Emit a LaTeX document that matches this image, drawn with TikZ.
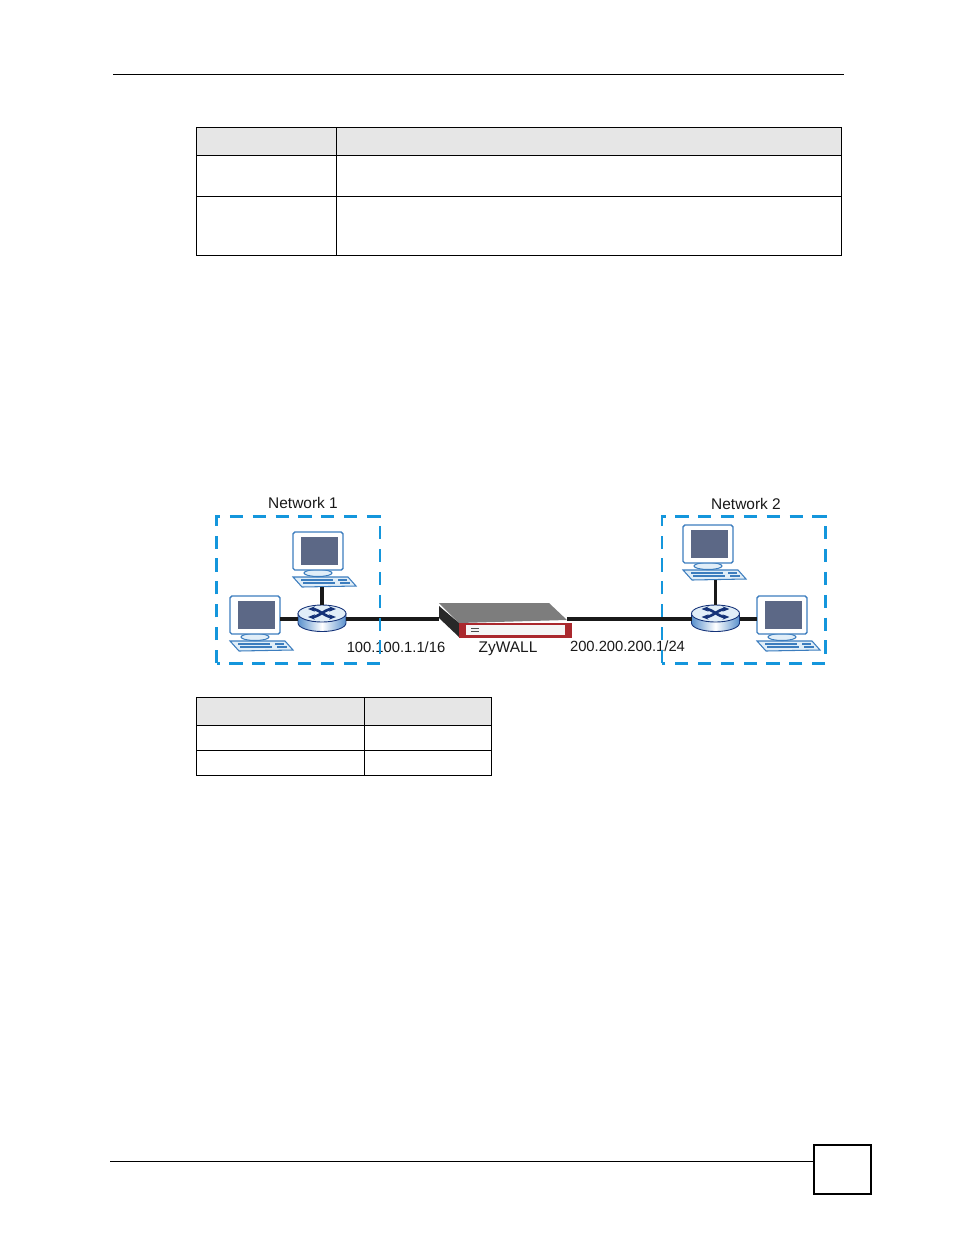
\documentclass[tikz,border=0pt]{standalone}
\usepackage{fontspec}
\setmainfont{Liberation Sans}
\usetikzlibrary{arrows.meta}
\definecolor{net_blue}{RGB}{20, 150, 220}
\definecolor{head_grey}{RGB}{230, 230, 230}
\definecolor{pc_edge}{RGB}{60, 125, 190}
\definecolor{pc_screen}{RGB}{92, 104, 134}
\definecolor{pc_pale}{RGB}{225, 238, 248}
\definecolor{rt_blue}{RGB}{90, 145, 205}
\definecolor{rt_navy}{RGB}{20, 50, 120}
\definecolor{box_top}{RGB}{125, 125, 125}
\definecolor{box_side}{RGB}{40, 40, 40}
\definecolor{box_red}{RGB}{170, 40, 45}
\tikzstyle{lan}=[draw=net_blue,line width=1.7pt,dash pattern=on 7.5pt off 5.5pt]
\tikzstyle{wire}=[draw=black!90,line width=1.8pt]
\tikzstyle{lbl}=[inner sep=0pt,text=black!90,font=\fontsize{8.8}{10}\selectfont]
\tikzstyle{cell}=[draw=black,line width=0.6pt]
\tikzstyle{rule}=[draw=black,line width=0.6pt]
\tikzset{
  pics/pc/.style={code={
    \draw [pc_edge,line width=0.6pt,fill=pc_pale] (0,45) -- (55,45) -- (63,54) -- (9,55) -- cycle;
    \draw [pc_edge,line width=1pt] (8,48) -- (40,48) (10,51) -- (42,51) (45,48) -- (54,48) (47,51) -- (57,51);
    \draw [pc_edge,line width=0.6pt,fill=pc_pale] (25,41) ellipse (14 and 3.5);
    \draw [pc_edge,line width=0.8pt,fill=white,rounded corners=1pt] (0,0) rectangle (50,38);
    \fill [pc_screen] (8,5) rectangle (45,33);
    \coordinate (-kbd) at (29.5,55);
    \coordinate (-lft) at (0,23);
    \coordinate (-rgt) at (50,23);
  }},
  pics/router/.style={code={
    \draw [rt_navy,line width=0.5pt,left color=rt_blue,right color=rt_blue,middle color=white]
      (-24,-5.5) -- (-24,4) arc [start angle=180,end angle=0,x radius=24,y radius=8.5] -- (24,-5.5) -- cycle;
    \draw [rt_navy,line width=0.5pt,fill=pc_pale] (0,-5.5) ellipse (24 and 8.5);
    \draw [rt_navy,line width=1.5pt,{Stealth[length=4pt]}-{Stealth[length=4pt]}]
      (-14,-10) .. controls (-3,-10) and (3,-2) .. (14,-2);
    \draw [rt_navy,line width=1.5pt,{Stealth[length=4pt]}-{Stealth[length=4pt]}]
      (-14,-2) .. controls (-3,-2) and (3,-10) .. (14,-10);
    \coordinate (-top) at (0,-14);
    \coordinate (-lft) at (-24,0);
    \coordinate (-rgt) at (24,0);
  }},
  pics/zywall/.style={code={
    \fill [box_top] (0,0) -- (110,0) -- (128,17) -- (20,20) -- cycle;
    \fill [box_side] (0,3) -- (20,20) -- (20,34) -- (0,15) -- cycle;
    \fill [box_red] (20,20) rectangle (133,35);
    \fill [white!96!black] (27,22) rectangle (126,32);
    \draw [black!70,line width=0.5pt] (32,25) -- (40,25) (32,28.5) -- (40,28.5);
    \coordinate (-lft) at (0,16);
    \coordinate (-rgt) at (128,16);
  }}
}
\begin{document}
\begin{tikzpicture}[x=0.02cm,y=-0.02cm]
    \useasboundingbox (0,0) rectangle (954,1235);
    % page rules
    \draw [style=rule] (113,74.5) -- (844,74.5);
    \draw [style=rule] (110,1161.5) -- (814,1161.5);
    \draw [draw=black,line width=1.2pt] (814,1145) rectangle (871,1194);
    % upper table
    \fill [head_grey] (196.5,127.5) rectangle (841.5,155.5);
    \draw [style=cell] (196.5,127.5) rectangle (841.5,255.5);
    \draw [style=cell] (196.5,155.5) -- (841.5,155.5);
    \draw [style=cell] (196.5,196.5) -- (841.5,196.5);
    \draw [style=cell] (336.5,127.5) -- (336.5,255.5);
    % lower table
    \fill [head_grey] (196.5,697.5) rectangle (491.5,725.5);
    \draw [style=cell] (196.5,697.5) rectangle (491.5,775.5);
    \draw [style=cell] (196.5,725.5) -- (491.5,725.5);
    \draw [style=cell] (196.5,750.5) -- (491.5,750.5);
    \draw [style=cell] (364.5,697.5) -- (364.5,775.5);
    % devices
    \pic (pc1) at (293,532) {pc};
    \pic (pc2) at (230,596) {pc};
    \pic (pc3) at (683,525) {pc};
    \pic (pc4) at (757,596) {pc};
    \pic (rt1) at (322,619) {router};
    \pic (rt2) at (715.5,619) {router};
    \pic (zw) at (439,603) {zywall};
    % links
    \draw [style=wire] (pc1-kbd -| rt1-top) to (rt1-top);
    \draw [style=wire] (pc2-rgt) to (rt1-lft);
    \draw [style=wire] (rt1-rgt) to (zw-lft);
    \draw [style=wire] (zw-rgt) to (rt2-lft);
    \draw [style=wire] (pc3-kbd -| rt2-top) to (rt2-top);
    \draw [style=wire] (rt2-rgt) to (pc4-lft);
    % labels
    \node [style=lbl] (net1) at (303,503) {Network 1};
    \node [style=lbl] (net2) at (746,504) {Network 2};
    \node [style=lbl,font=\fontsize{8.4}{10}\selectfont] (ip1) at (396,647) {100.100.1.1/16};
    \node [style=lbl,font=\fontsize{8.4}{10}\selectfont] (ip2) at (627.5,646.5) {200.200.200.1/24};
    \node [style=lbl] (zwname) at (508,649) {ZyWALL};
    % network boxes
    \draw [style=lan] (216.5,663) -- (216.5,516.5) -- (380,516.5) -- (380,663) -- cycle;
    \draw [style=lan] (662,663) -- (662,516.5) -- (825.5,516.5) -- (825.5,663) -- cycle;
  \end{tikzpicture}
\end{document}
